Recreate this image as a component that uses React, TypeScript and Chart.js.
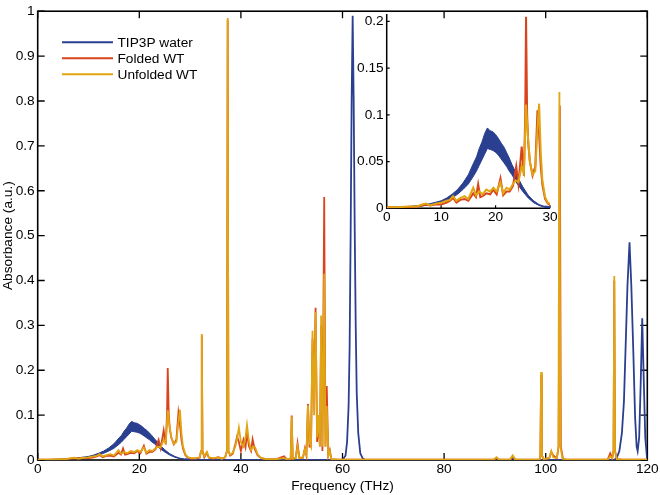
import React, { useEffect, useRef } from "react";
import { Chart, registerables } from "chart.js";

Chart.register(...registerables);

type Pt = [number, number];

const seriesNames = ["TIP3P water", "Folded WT", "Unfolded WT"];
const seriesColors = ["#2A3F8F", "#D9441C", "#E1A412"];

const mainXTicks = [0, 20, 40, 60, 80, 100, 120];
const mainXTickLabels = ["0", "20", "40", "60", "80", "100", "120"];
const mainYTicks = [0, 0.1, 0.2, 0.3, 0.4, 0.5, 0.6, 0.7, 0.8, 0.9, 1];
const mainYTickLabels = ["0", "0.1", "0.2", "0.3", "0.4", "0.5", "0.6", "0.7", "0.8", "0.9", "1"];
const insetXTicks = [0, 10, 20, 30];
const insetXTickLabels = ["0", "10", "20", "30"];
const insetYTicks = [0, 0.05, 0.1, 0.15, 0.2];
const insetYTickLabels = ["0", "0.05", "0.1", "0.15", "0.2"];

const xTitle = "Frequency (THz)";
const yTitle = "Absorbance (a.u.)";

// TIP3P water: noisy broad band 0-30 THz (upper / lower envelope)
const waterBandUpper: Pt[] = [
  [0, 0.0005], [2, 0.001], [4, 0.002], [6, 0.003], [8, 0.005], [10, 0.008], [11, 0.011],
  [12, 0.015], [13, 0.02], [14, 0.027], [15, 0.036], [16, 0.049], [16.5, 0.055], [17, 0.064],
  [17.5, 0.071], [18, 0.08], [18.5, 0.086], [19, 0.083], [19.5, 0.082], [20, 0.079], [20.5, 0.075],
  [21, 0.07], [21.5, 0.066], [22, 0.06], [22.5, 0.054], [23, 0.047], [23.5, 0.041], [24, 0.034],
  [25, 0.023], [26, 0.014], [27, 0.008], [28, 0.004], [29, 0.002], [30, 0.001],
];
const waterBandLower: Pt[] = [
  [0, 0], [2, 0.0005], [4, 0.001], [6, 0.002], [8, 0.004], [10, 0.006], [11, 0.008],
  [12, 0.011], [13, 0.015], [14, 0.02], [15, 0.026], [16, 0.035], [16.5, 0.04], [17, 0.046],
  [17.5, 0.052], [18, 0.058], [18.5, 0.064], [19, 0.063], [19.5, 0.062], [20, 0.06], [20.5, 0.057],
  [21, 0.053], [21.5, 0.049], [22, 0.045], [22.5, 0.04], [23, 0.036], [23.5, 0.031], [24, 0.026],
  [25, 0.018], [26, 0.011], [27, 0.006], [28, 0.003], [29, 0.001], [30, 0],
];
const waterLine: Pt[] = [
  [29, 0.002], [30, 0.001], [32, 0.0005], [35, 0], [60, 0], [60.6, 0.01], [60.9, 0.04], [61.2, 0.12],
  [61.4, 0.25], [61.6, 0.5], [61.8, 0.8], [62.0, 0.99], [62.2, 0.8], [62.4, 0.52], [62.6, 0.3],
  [62.8, 0.15], [63.1, 0.06], [63.5, 0.015], [64, 0.003], [64.5, 0], [89.8, 0], [90.3, 0.004],
  [90.8, 0], [93, 0], [93.5, 0.006], [94, 0], [113.5, 0], [114, 0.005], [114.5, 0.02], [115, 0.06],
  [115.4, 0.13], [115.7, 0.24], [116.1, 0.39], [116.5, 0.485], [116.85, 0.39], [117.25, 0.24],
  [117.6, 0.095], [117.9, 0.03], [118.1, 0.02], [118.4, 0.05], [118.7, 0.17], [119.0, 0.316],
  [119.3, 0.18], [119.6, 0.05], [119.9, 0.01], [120, 0.005],
];

const foldedWT: Pt[] = [
  [0, 0.001], [2, 0.001], [4, 0.001], [5.5, 0.002], [6.5, 0.003], [7.2, 0.004], [8, 0.003], [9, 0.004],
  [10, 0.004], [11, 0.006], [11.6, 0.008], [12.2, 0.011], [12.8, 0.006], [13.5, 0.009], [14.3, 0.01],
  [15.0, 0.008], [15.9, 0.016], [16.4, 0.012], [16.8, 0.026], [17.2, 0.012], [17.6, 0.013], [18.3, 0.016],
  [19.0, 0.015], [19.6, 0.02], [20.2, 0.015], [20.9, 0.032], [21.4, 0.014], [22.0, 0.018], [22.6, 0.018],
  [23.2, 0.024], [23.8, 0.045], [24.2, 0.026], [24.8, 0.066], [25.2, 0.035], [25.45, 0.1], [25.6, 0.205],
  [25.8, 0.1], [26.0, 0.07], [26.3, 0.05], [26.8, 0.035], [27.3, 0.045], [27.7, 0.105], [28.0, 0.08],
  [28.3, 0.045], [28.6, 0.025], [29.1, 0.01], [29.6, 0.005], [30.2, 0.003], [31.0, 0.003], [31.9, 0.005],
  [32.15, 0.02], [32.3, 0.278], [32.45, 0.02], [32.8, 0.006], [33.3, 0.016], [33.7, 0.005], [34.5, 0.003],
  [35.6, 0.006], [36.2, 0.003], [36.9, 0.006], [37.25, 0.02], [37.4, 0.98], [37.55, 0.02], [37.9, 0.01],
  [38.4, 0.014], [38.9, 0.035], [39.25, 0.052], [39.6, 0.04], [40.0, 0.02], [40.5, 0.045], [40.9, 0.028],
  [41.2, 0.06], [41.6, 0.03], [42.0, 0.02], [42.3, 0.046], [42.7, 0.025], [43.3, 0.01], [44, 0.004],
  [45, 0.002], [47, 0.002], [48.5, 0.008], [49, 0.002], [49.8, 0.003], [50.0, 0.099], [50.2, 0.003],
  [50.8, 0.005], [51.15, 0.037], [51.5, 0.005], [52.2, 0.005], [52.6, 0.026], [52.9, 0.01], [53.2, 0.125],
  [53.5, 0.03], [53.8, 0.03], [54.1, 0.27], [54.4, 0.16], [54.7, 0.339], [55.0, 0.04], [55.3, 0.08],
  [55.55, 0.03], [55.8, 0.3], [56.05, 0.02], [56.4, 0.586], [56.65, 0.03], [56.9, 0.165], [57.2, 0.01],
  [57.5, 0.022], [57.8, 0.002], [59, 0.001], [70, 0.001], [80, 0.001], [89.8, 0.001], [90.3, 0.005],
  [90.8, 0.001], [93, 0.001], [93.5, 0.009], [94, 0.001], [98.8, 0.001], [98.95, 0.01], [99.1, 0.19],
  [99.25, 0.01], [99.6, 0.002], [100.7, 0.004], [101.1, 0.018], [101.5, 0.01], [102.2, 0.004],
  [102.55, 0.03], [102.78, 0.79], [102.98, 0.03], [103.4, 0.003], [104, 0.001], [112.2, 0.001],
  [112.7, 0.015], [113.1, 0.004], [113.35, 0.02], [113.5, 0.4], [113.65, 0.02], [114, 0.002],
  [115, 0.001], [120, 0.001],
];

const unfoldedWT: Pt[] = [
  [0, 0.001], [2, 0.001], [4, 0.002], [5.5, 0.002], [6.5, 0.004], [7.2, 0.005], [8, 0.003], [9, 0.005],
  [10, 0.006], [11, 0.008], [11.6, 0.009], [12.2, 0.013], [12.8, 0.008], [13.5, 0.011], [14.3, 0.013],
  [15.0, 0.01], [15.9, 0.022], [16.4, 0.014], [17.0, 0.018], [17.6, 0.015], [18.3, 0.02], [19.0, 0.018],
  [19.6, 0.022], [20.2, 0.018], [20.9, 0.028], [21.4, 0.016], [22.0, 0.022], [22.6, 0.02], [23.2, 0.026],
  [23.7, 0.03], [24.2, 0.028], [24.8, 0.045], [25.2, 0.038], [25.6, 0.111], [25.9, 0.08], [26.3, 0.05],
  [26.8, 0.036], [27.3, 0.04], [27.7, 0.085], [28.0, 0.112], [28.3, 0.06], [28.6, 0.03], [29.1, 0.012],
  [29.6, 0.006], [30.2, 0.004], [31.0, 0.004], [31.9, 0.006], [32.15, 0.02], [32.3, 0.281], [32.45, 0.02],
  [32.8, 0.008], [33.3, 0.018], [33.7, 0.006], [34.5, 0.004], [35.6, 0.006], [36.2, 0.003], [36.9, 0.006],
  [37.25, 0.02], [37.4, 0.985], [37.55, 0.02], [37.9, 0.012], [38.4, 0.016], [38.9, 0.03], [39.3, 0.05],
  [39.6, 0.072], [40.0, 0.04], [40.5, 0.03], [40.9, 0.05], [41.2, 0.078], [41.6, 0.04], [42.0, 0.022],
  [42.4, 0.03], [42.8, 0.028], [43.3, 0.012], [44, 0.004], [45, 0.002], [47, 0.002], [48.5, 0.004],
  [49, 0.002], [49.8, 0.003], [50.0, 0.097], [50.2, 0.003], [50.8, 0.004], [51.15, 0.03], [51.5, 0.004],
  [52.2, 0.005], [52.6, 0.024], [52.9, 0.012], [53.2, 0.122], [53.5, 0.04], [53.8, 0.03], [54.1, 0.288],
  [54.4, 0.1], [54.7, 0.33], [55.0, 0.05], [55.3, 0.1], [55.55, 0.03], [55.8, 0.322], [56.05, 0.03],
  [56.4, 0.415], [56.65, 0.03], [56.9, 0.12], [57.2, 0.01], [57.5, 0.02], [57.8, 0.002], [59, 0.001],
  [70, 0.001], [80, 0.001], [89.8, 0.001], [90.3, 0.006], [90.8, 0.001], [93, 0.001], [93.5, 0.01],
  [94, 0.001], [98.8, 0.001], [98.95, 0.01], [99.1, 0.196], [99.25, 0.01], [99.6, 0.002], [100.7, 0.004],
  [101.1, 0.02], [101.5, 0.006], [102.2, 0.004], [102.5, 0.03], [102.7, 0.82], [102.9, 0.03],
  [103.3, 0.003], [104, 0.001], [112.2, 0.001], [112.7, 0.008], [113.1, 0.004], [113.35, 0.02],
  [113.5, 0.41], [113.65, 0.02], [114, 0.002], [115, 0.001], [120, 0.001],
];

const FONT = "'Liberation Sans', Arial, Helvetica, sans-serif";
const FONT_SIZE = 13.7;

const toXY = (arr: Pt[]) => arr.map(([x, y]) => ({ x, y }));

function makeDatasets(lw: number) {
  return [
    { label: seriesNames[2], data: toXY(unfoldedWT), borderColor: seriesColors[2], borderWidth: lw, pointRadius: 0, fill: false, tension: 0 },
    { label: seriesNames[1], data: toXY(foldedWT), borderColor: seriesColors[1], borderWidth: lw, pointRadius: 0, fill: false, tension: 0 },
    { label: seriesNames[0], data: toXY(waterLine), borderColor: seriesColors[0], borderWidth: lw, pointRadius: 0, fill: false, tension: 0 },
    { label: "water-low", data: toXY(waterBandLower), borderColor: seriesColors[0], borderWidth: 1, pointRadius: 0, fill: false, tension: 0 },
    { label: "water-high", data: toXY(waterBandUpper), borderColor: seriesColors[0], backgroundColor: seriesColors[0], borderWidth: 1, pointRadius: 0, fill: 3, tension: 0 },
  ];
}

function tickScale(ticksVals: number[], labels: string[], min: number, max: number, padding: number, fit: (s: any) => void) {
  return {
    type: "linear" as const,
    min,
    max,
    grid: { display: false, drawTicks: false, tickLength: 0 },
    border: { display: false },
    ticks: {
      color: "#000",
      font: { family: FONT, size: FONT_SIZE },
      padding,
      maxRotation: 0,
      autoSkip: false,
      callback: (_v: any, i: number) => labels[i],
    },
    afterBuildTicks: (s: any) => {
      s.ticks = ticksVals.map((v) => ({ value: v }));
    },
    afterFit: fit,
  };
}

const mainFrame = {
  id: "mainFrame",
  beforeDatasetsDraw(chart: any) {
    const { ctx, chartArea: a, scales } = chart;
    ctx.save();
    ctx.strokeStyle = "#000";
    ctx.lineWidth = 1.6;
    ctx.strokeRect(a.left, a.top, a.right - a.left, a.bottom - a.top);
    ctx.lineWidth = 1.3;
    const tl = 7;
    ctx.beginPath();
    for (const v of mainXTicks) {
      const px = scales.x.getPixelForValue(v);
      ctx.moveTo(px, a.bottom);
      ctx.lineTo(px, a.bottom - tl);
      ctx.moveTo(px, a.top);
      ctx.lineTo(px, a.top + tl);
    }
    for (const v of mainYTicks) {
      const py = scales.y.getPixelForValue(v);
      ctx.moveTo(a.left, py);
      ctx.lineTo(a.left + tl, py);
      ctx.moveTo(a.right, py);
      ctx.lineTo(a.right - tl, py);
    }
    ctx.stroke();
    ctx.restore();
  },
  afterDraw(chart: any) {
    const { ctx, chartArea: a } = chart;
    ctx.save();
    ctx.fillStyle = "#000";
    ctx.font = `${FONT_SIZE}px ${FONT}`;
    ctx.textAlign = "center";
    ctx.textBaseline = "alphabetic";
    ctx.fillText(xTitle, (a.left + a.right) / 2, 490);
    ctx.save();
    ctx.translate(11.6, (a.top + a.bottom) / 2);
    ctx.rotate(-Math.PI / 2);
    ctx.fillText(yTitle, 0, 0);
    ctx.restore();
    // legend
    const rows = [42.3, 58.3, 74.3];
    ctx.textAlign = "left";
    [0, 1, 2].forEach((si, r) => {
      ctx.strokeStyle = seriesColors[si];
      ctx.lineWidth = 2;
      ctx.beginPath();
      ctx.moveTo(62, rows[r]);
      ctx.lineTo(113, rows[r]);
      ctx.stroke();
      ctx.fillStyle = "#000";
      ctx.fillText(seriesNames[si], 117.5, rows[r] + 5);
    });
    ctx.restore();
  },
};

const insetFrame = {
  id: "insetFrame",
  beforeDatasetsDraw(chart: any) {
    const { ctx, chartArea: a, scales } = chart;
    ctx.save();
    ctx.strokeStyle = "#000";
    ctx.lineWidth = 1.5;
    ctx.beginPath();
    ctx.moveTo(a.left, a.top);
    ctx.lineTo(a.left, a.bottom);
    ctx.lineTo(a.right, a.bottom);
    ctx.stroke();
    ctx.lineWidth = 1.2;
    const tl = 3;
    ctx.beginPath();
    for (const v of insetXTicks) {
      const px = scales.x.getPixelForValue(v);
      ctx.moveTo(px, a.bottom);
      ctx.lineTo(px, a.bottom - tl);
    }
    for (const v of insetYTicks) {
      const py = scales.y.getPixelForValue(v);
      ctx.moveTo(a.left, py);
      ctx.lineTo(a.left + tl, py);
    }
    ctx.stroke();
    ctx.restore();
  },
};

export default function App() {
  const mainRef = useRef<HTMLCanvasElement>(null);
  const insetRef = useRef<HTMLCanvasElement>(null);

  useEffect(() => {
    const main = new Chart(mainRef.current as HTMLCanvasElement, {
      type: "line",
      data: { datasets: makeDatasets(1.8) as any },
      options: {
        responsive: false,
        animation: false,
        parsing: false as any,
        normalized: true,
        layout: { padding: { left: 0, right: 12.7, top: 5, bottom: 0 } },
        plugins: { legend: { display: false }, tooltip: { enabled: false } },
        events: [],
        scales: {
          x: tickScale(mainXTicks, mainXTickLabels, 0, 120, 1, (s: any) => { s.height = 35; }),
          y: tickScale(mainYTicks, mainYTickLabels, 0, 1, 3, (s: any) => { s.width = 37.7; }),
        } as any,
      },
      plugins: [mainFrame],
    });
    const inset = new Chart(insetRef.current as HTMLCanvasElement, {
      type: "line",
      data: { datasets: makeDatasets(2) as any },
      options: {
        responsive: false,
        animation: false,
        parsing: false as any,
        layout: { padding: { left: 0, right: 20, top: 14, bottom: 0 } },
        plugins: { legend: { display: false }, tooltip: { enabled: false } },
        events: [],
        scales: {
          x: tickScale(insetXTicks, insetXTickLabels, 0, 30, 1, (s: any) => { s.height = 26.7; }),
          y: tickScale(insetYTicks, insetYTickLabels, 0, 0.208, 3, (s: any) => { s.width = 56.7; }),
        } as any,
      },
      plugins: [insetFrame],
    });
    return () => {
      main.destroy();
      inset.destroy();
    };
  }, []);

  return (
    <div style={{ position: "fixed", left: 0, top: 0, width: 660, height: 495, background: "#fff" }}>
      <canvas ref={mainRef} width={660} height={495} style={{ position: "absolute", left: 0, top: 0, width: 660, height: 495 }} />
      <canvas ref={insetRef} width={240} height={235} style={{ position: "absolute", left: 330, top: 0, width: 240, height: 235 }} />
    </div>
  );
}
